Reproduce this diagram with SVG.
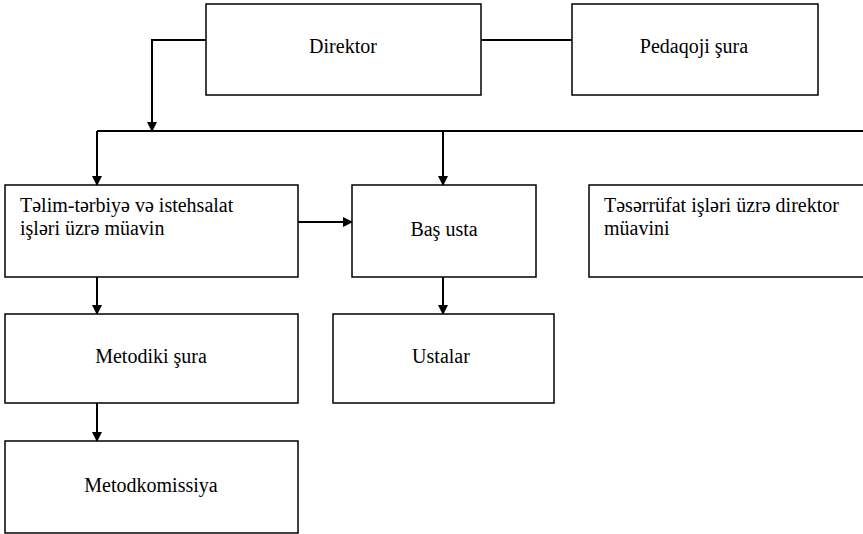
<svg xmlns="http://www.w3.org/2000/svg" width="863" height="534" viewBox="0 0 863 534">
<style>
.box{fill:#fff;stroke:#000;stroke-width:1.5}
.t{font-family:"Liberation Serif","Times New Roman",serif;font-size:20px;fill:#000}
.c{text-anchor:middle}
.ln{fill:none;stroke:#000;stroke-width:2}
</style>
<defs>
<marker id="ah" markerWidth="10" markerHeight="10" refX="9" refY="5" orient="auto" markerUnits="userSpaceOnUse">
<path d="M0,0 L10,5 L0,10 Z" fill="#000"/>
</marker>
</defs>
<rect width="863" height="534" fill="#fff"/>
<g id="connectors">
<path class="ln" d="M481,40 H572" stroke-width="1.5"/>
<path class="ln" d="M206,40 H152 V131" marker-end="url(#ah)"/>
<path class="ln" d="M97,131 H863"/>
<path class="ln" d="M97,131 V185" marker-end="url(#ah)"/>
<path class="ln" d="M443,131 V185" marker-end="url(#ah)"/>
<path class="ln" d="M298,222 H352" stroke-width="1.5" marker-end="url(#ah)"/>
<path class="ln" d="M97,277 V314" marker-end="url(#ah)"/>
<path class="ln" d="M443,277 V314" marker-end="url(#ah)"/>
<path class="ln" d="M97,403 V441" marker-end="url(#ah)"/>
</g>
<g id="direktor"><rect class="box" x="206" y="4" width="275" height="91"/><text class="t c" x="343" y="53">Direktor</text></g>
<g id="pedaqoji"><rect class="box" x="572" y="4" width="246" height="91"/><text class="t c" x="694" y="53">Pedaqoji şura</text></g>
<g id="telim"><rect class="box" x="5" y="185" width="293" height="92"/><text class="t" x="20" y="212">Təlim-tərbiyə və istehsalat</text><text class="t" x="20" y="235">işləri üzrə müavin</text></g>
<g id="basusta"><rect class="box" x="352" y="185" width="184" height="92"/><text class="t c" x="444" y="236">Baş usta</text></g>
<g id="teserrufat"><rect class="box" x="589" y="185" width="276" height="92"/><text class="t" x="604" y="212">Təsərrüfat işləri üzrə direktor</text><text class="t" x="604" y="235">müavini</text></g>
<g id="metodiki"><rect class="box" x="5" y="314" width="293" height="89"/><text class="t c" x="151" y="363">Metodiki şura</text></g>
<g id="ustalar"><rect class="box" x="333" y="314" width="221" height="89"/><text class="t c" x="441" y="363">Ustalar</text></g>
<g id="metodkomissiya"><rect class="box" x="5" y="441" width="293" height="92"/><text class="t c" x="151" y="492">Metodkomissiya</text></g>
</svg>
